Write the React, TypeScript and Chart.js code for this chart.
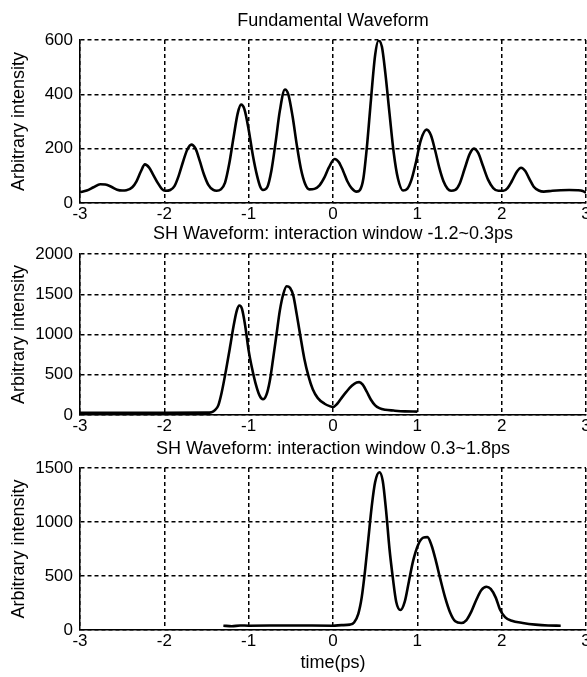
import React, { useEffect, useRef } from "react";
import { Chart, registerables } from "chart.js";
Chart.register(...registerables);

// ---- data ----
const X_TICKS = [-3, -2, -1, 0, 1, 2, 3];

const TITLES = [
  "Fundamental Waveform",
  "SH Waveform: interaction window -1.2~0.3ps",
  "SH Waveform: interaction window 0.3~1.8ps",
];
const Y_LABEL = "Arbitrary intensity";
const X_LABEL = "time(ps)";

const Y_MAX = [600, 2000, 1500];
const Y_STEP = [200, 500, 500];

const FUND_X = [
  -3, -2.92, -2.84, -2.76, -2.7, -2.63, -2.56, -2.5,
  -2.45, -2.38, -2.33, -2.28, -2.23, -2.18, -2.13, -2.08, -2.03, -1.99,
  -1.93, -1.88, -1.83, -1.78, -1.73, -1.68, -1.63, -1.58, -1.53, -1.48, -1.42, -1.38,
  -1.33, -1.28, -1.23, -1.18, -1.13, -1.09, -1.05, -1.0, -0.95, -0.9, -0.86, -0.83,
  -0.78, -0.73, -0.68, -0.63, -0.57, -0.53, -0.48, -0.43, -0.38, -0.33, -0.28,
  -0.22, -0.16, -0.1, -0.05, 0.02, 0.07, 0.12, 0.17, 0.22, 0.28,
  0.32, 0.36, 0.4, 0.45, 0.5, 0.54, 0.58, 0.62, 0.67, 0.72, 0.77, 0.83,
  0.88, 0.93, 0.98, 1.04, 1.11, 1.16, 1.21, 1.26, 1.31, 1.36, 1.4,
  1.45, 1.5, 1.56, 1.62, 1.67, 1.72, 1.78, 1.84, 1.9, 1.96, 2.02,
  2.07, 2.12, 2.18, 2.23, 2.28, 2.33, 2.38, 2.44, 2.5, 2.6, 2.7, 2.8, 2.9, 2.96, 3.0,
];
const FUND_Y = [
  40, 46, 58, 69, 68, 60, 49, 46,
  47, 58, 80, 115, 142, 130, 103, 75, 52, 45,
  48, 62, 100, 150, 195, 215, 200, 155, 105, 68, 48, 45,
  50, 75, 145, 240, 330, 362, 345, 270, 175, 100, 58, 48,
  58, 120, 225, 340, 418, 400, 320, 215, 125, 70, 50,
  52, 65, 95, 130, 162, 150, 118, 80, 55, 42,
  48, 90, 200, 380, 545, 598, 575, 480, 330, 185, 90, 46,
  52, 85, 145, 230, 270, 250, 195, 130, 80, 52, 45,
  48, 70, 125, 180, 200, 185, 135, 85, 55, 45, 45,
  55, 80, 115, 130, 118, 88, 60, 46, 42, 45, 47, 48, 47, 44, 38,
];

const SH1_X = [
  -3, -2.5, -2, -1.5, -1.44, -1.4, -1.36, -1.32, -1.27, -1.22, -1.18, -1.14, -1.11,
  -1.08, -1.04, -1.0, -0.96, -0.92, -0.87, -0.83, -0.79, -0.75, -0.71, -0.67, -0.63,
  -0.59, -0.55, -0.51, -0.47, -0.43, -0.39, -0.34, -0.29, -0.24, -0.18, -0.1, -0.04,
  0.0, 0.05, 0.1, 0.16, 0.22, 0.28, 0.31, 0.35, 0.4, 0.45, 0.5, 0.55, 0.62, 0.72, 0.85, 1.0,
];
const SH1_Y = [
  28, 28, 28, 29, 35, 60, 120, 280, 550, 850, 1100, 1300, 1360,
  1320, 1100, 800, 580, 400, 240, 195, 250, 420, 700, 1000, 1300,
  1500, 1600, 1580, 1480, 1250, 1000, 700, 480, 320, 210, 140, 110,
  100, 140, 210, 290, 360, 405, 408, 380, 290, 190, 120, 85, 65, 55, 45, 42,
];

const SH2_X = [
  -1.3, -1.2, -1.1, -1.0, -0.5, 0.0, 0.1, 0.2, 0.25, 0.3, 0.34, 0.38, 0.42, 0.46,
  0.5, 0.55, 0.59, 0.63, 0.67, 0.71, 0.75, 0.8, 0.85, 0.9, 0.95, 1.01, 1.07, 1.12,
  1.17, 1.22, 1.27, 1.33, 1.39, 1.45, 1.52, 1.58, 1.64, 1.7, 1.76, 1.82, 1.87, 1.93,
  1.98, 2.04, 2.12, 2.25, 2.4, 2.55, 2.7,
];
const SH2_Y = [
  40, 35, 42, 40, 42, 40, 45, 50, 70, 150, 300, 550, 850, 1150,
  1370, 1460, 1380, 1100, 750, 480, 260, 185, 260, 450, 640, 790, 855, 860,
  780, 640, 480, 300, 160, 80, 65, 90, 170, 280, 370, 400, 380, 300,
  190, 120, 85, 65, 50, 42, 40,
];

const SERIES_X = [FUND_X, SH1_X, SH2_X];
const SERIES_Y = [FUND_Y, SH1_Y, SH2_Y];

// ---- layout ----
const FONT = '"Liberation Sans", Arial, Helvetica, sans-serif';
const CANVAS_W = 600;
const PANELS = [
  { top: 0, height: 224, padTop: 40, axisH: 21, titleY: 21, xTitle: false },
  { top: 224, height: 213, padTop: 30, axisH: 22, titleY: 10, xTitle: false },
  { top: 437, height: 240, padTop: 31, axisH: 47, titleY: 12, xTitle: true },
];

function Panel({ idx }: { idx: number }) {
  const ref = useRef<HTMLCanvasElement | null>(null);
  const p = PANELS[idx];
  useEffect(() => {
    if (!ref.current) return;
    const xs = SERIES_X[idx];
    const ys = SERIES_Y[idx];
    const data = xs.map((x, i) => ({ x, y: ys[i] }));
    const title = TITLES[idx];
    const titlePlugin = {
      id: "panelTitle" + idx,
      afterDraw(chart: any) {
        const ctx = chart.ctx;
        const a = chart.chartArea;
        ctx.save();
        ctx.font = "18px " + FONT;
        ctx.fillStyle = "#000";
        ctx.textAlign = "center";
        ctx.textBaseline = "middle";
        ctx.fillText(title, (a.left + a.right) / 2, p.titleY);
        ctx.restore();
      },
    };
    const gridCommon = {
      color: "#000",
      lineWidth: 1.5,
      drawTicks: false,
    };
    const chart = new Chart(ref.current, {
      type: "line",
      data: {
        datasets: [
          {
            data,
            borderColor: "#000",
            borderWidth: 2.6,
            pointRadius: 0,
            cubicInterpolationMode: "monotone",
            fill: false,
          },
        ],
      },
      options: {
        animation: false,
        responsive: false,
        maintainAspectRatio: false,
        layout: { padding: { top: p.padTop, right: CANVAS_W - 586, left: 0, bottom: 0 } },
        plugins: { legend: { display: false }, tooltip: { enabled: false }, title: { display: false } },
        scales: {
          x: {
            type: "linear",
            min: -3,
            max: 3,
            afterBuildTicks: (s: any) => {
              s.ticks = X_TICKS.map((v) => ({ value: v }));
            },
            afterFit: (s: any) => {
              s.height = p.axisH;
            },
            ticks: {
              autoSkip: false,
              maxRotation: 0,
              padding: 1,
              color: "#000",
              font: { family: FONT, size: 17 },
              callback: (v: any) => String(v),
            },
            grid: { ...gridCommon },
            border: { display: true, color: "#000", width: 1.5, dash: [4, 3] },
            title: {
              display: p.xTitle,
              text: X_LABEL,
              color: "#000",
              font: { family: FONT, size: 18 },
              padding: { top: 0, bottom: 3 },
            },
          },
          y: {
            type: "linear",
            min: 0,
            max: Y_MAX[idx],
            ticks: {
              stepSize: Y_STEP[idx],
              padding: 7,
              color: "#000",
              font: { family: FONT, size: 17 },
              callback: (v: any) => String(v),
            },
            afterFit: (s: any) => {
              s.width = 80;
            },
            grid: { ...gridCommon },
            border: { display: true, color: "#000", width: 1.5, dash: [4, 3] },
            title: {
              display: true,
              text: Y_LABEL,
              color: "#000",
              font: { family: FONT, size: 18 },
              padding: { top: 8, bottom: 0 },
            },
          },
        },
      } as any,
      plugins: [titlePlugin],
    });
    return () => chart.destroy();
  }, [idx]);
  return (
    <canvas
      ref={ref}
      width={CANVAS_W}
      height={p.height}
      style={{ position: "absolute", left: 0, top: p.top, width: CANVAS_W, height: p.height }}
    />
  );
}

export default function App() {
  return (
    <div
      style={{
        position: "absolute",
        left: 0,
        top: 0,
        width: 587,
        height: 677,
        overflow: "hidden",
        background: "#fff",
      }}
    >
      <Panel idx={0} />
      <Panel idx={1} />
      <Panel idx={2} />
    </div>
  );
}
